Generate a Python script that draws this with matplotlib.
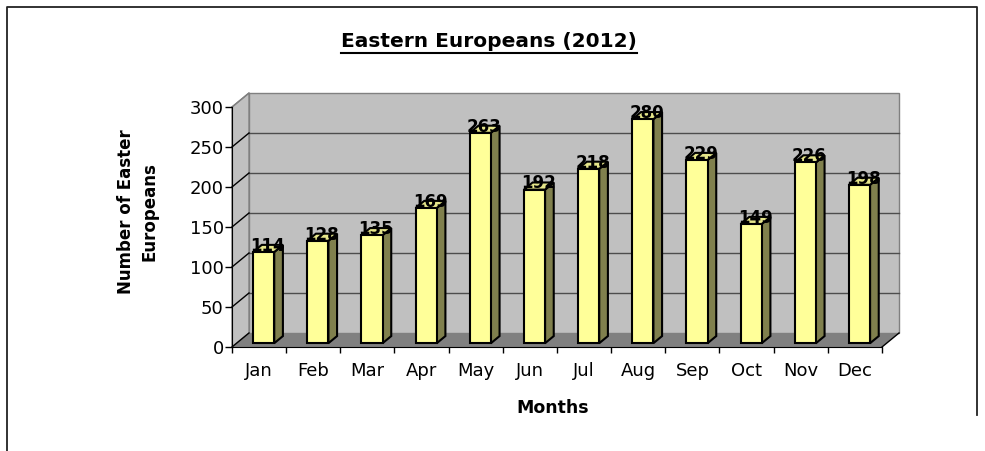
import matplotlib
matplotlib.use("Agg")
import matplotlib.pyplot as plt
from matplotlib.patches import Polygon
from matplotlib.lines import Line2D
from matplotlib.transforms import ScaledTranslation, IdentityTransform

# Данные
months = ["Jan", "Feb", "Mar", "Apr", "May", "Jun", "Jul", "Aug", "Sep", "Oct", "Nov", "Dec"]
counts = [114, 128, 135, 169, 263, 192, 218, 280, 229, 149, 226, 198]
y_ticks = [0, 50, 100, 150, 200, 250, 300]

W, H = 985, 451
DX, DY = 17, 14          # глубина "3D" в пикселях
d0, d1 = 0.27, 0.78      # передняя и задняя грань столбика (доля глубины)
bw = 0.39                # ширина столбика

fig = plt.figure(figsize=(W / 100, H / 100), dpi=100)
ax = fig.add_axes([232 / W, 104 / H, 650 / W, 240 / H])
n = len(months)
ax.set_xlim(-0.5, n - 0.5)
ax.set_ylim(0, y_ticks[-1])
ax.set_autoscale_on(False)
ax.patch.set_visible(False)


def depth(d, up=0):
    return ScaledTranslation(d * DX / 100, (d * DY + up) / 100, fig.dpi_scale_trans)


def P(x, v, d):
    X, Y = ax.transData.transform((x, v))
    return (X + d * DX, Y + d * DY)


def poly(pts, fc, ec="none", lw=1, z=1):
    p = Polygon(pts, closed=True, facecolor=fc, edgecolor=ec, linewidth=lw,
                transform=IdentityTransform(), clip_on=False, zorder=z)
    ax.add_patch(p)


def seg(a, b, c, lw=1, z=1):
    ax.add_line(Line2D([a[0], b[0]], [a[1], b[1]], color=c, linewidth=lw,
                       transform=IdentityTransform(), clip_on=False, zorder=z))


x0, x1, top = -0.5, n - 0.5, y_ticks[-1]

# стены и пол
poly([P(x0, 0, 1), P(x1, 0, 1), P(x1, top, 1), P(x0, top, 1)], "#C0C0C0", "#808080", z=0.5)
poly([P(x0, 0, 0), P(x0, 0, 1), P(x0, top, 1), P(x0, top, 0)], "#C0C0C0", "#808080", z=0.5)
poly([P(x0, 0, 0), P(x1, 0, 0), P(x1, 0, 1), P(x0, 0, 1)], "#808080", z=0.6)

for v in y_ticks[1:-1]:
    seg(P(x0, v, 1), P(x1, v, 1), "#4D4D4D", z=0.7)
for v in y_ticks[:-1]:
    seg(P(x0, v, 0), P(x0, v, 1), "black", z=0.7)
seg(P(x0, top, 0), P(x0, top, 1), "#808080", z=0.7)
seg(P(x1, 0, 0), P(x1, 0, 1), "black", z=0.7)

# столбики
xs = list(range(n))
for i, v in zip(xs, counts):
    poly([P(i + bw / 2, 0, d0), P(i + bw / 2, 0, d1), P(i + bw / 2, v, d1), P(i + bw / 2, v, d0)],
         "#80804D", "black", lw=1.5, z=3)
    poly([P(i - bw / 2, v, d0), P(i + bw / 2, v, d0), P(i + bw / 2, v, d1), P(i - bw / 2, v, d1)],
         "#E6E68A", "black", lw=1.5, z=3)
ax.bar(xs, counts, width=bw, color="#FFFF99", edgecolor="black", linewidth=1.5,
       transform=ax.transData + depth(d0), zorder=3.1, clip_on=False)

for i, v in zip(xs, counts):
    ax.text(i, v, str(v), ha="center", va="center", fontsize=12, fontweight="bold",
            transform=ax.transData + depth(0.5, 3), zorder=5, clip_on=False)

# оси
for s in ["top", "right"]:
    ax.spines[s].set_visible(False)
ax.spines["left"].set_zorder(2.5)
ax.spines["bottom"].set_zorder(2.5)
ax.set_yticks(y_ticks)
ax.tick_params(axis="y", labelsize=13, length=5, width=1, pad=1)
ax.set_xticks(xs)
ax.set_xticklabels(months)
ax.tick_params(axis="x", which="major", labelsize=13, length=0, pad=11)
ax.set_xticks([k - 0.5 for k in range(n + 1)], minor=True)
ax.tick_params(axis="x", which="minor", length=4, width=1)

# подписи
title = fig.text(489 / W, 1 - 46.7 / H, "Eastern Europeans (2012)", ha="center", va="baseline",
                 fontsize=14.5, fontweight="bold")
fig.text(138 / W, 1 - 212 / H, "Number of Easter\nEuropeans", rotation=90, ha="center", va="center",
         fontsize=12, fontweight="bold", linespacing=1.4)
fig.text(553 / W, 1 - 408 / H, "Months", ha="center", va="center", fontsize=12.5, fontweight="bold")

fig.canvas.draw()
bb = title.get_window_extent(fig.canvas.get_renderer())
fig.add_artist(Line2D([bb.x0, bb.x1], [H - 52.5, H - 52.5], color="black", linewidth=1.5,
                      transform=IdentityTransform()))

# рамка
fig.add_artist(Line2D([7 / W, 7 / W, 977 / W, 977 / W], [0, 1 - 7 / H, 1 - 7 / H, 1 - 415 / H],
                      color="#222222", linewidth=1.3, transform=fig.transFigure))

fig.savefig("out.png", dpi=100)
